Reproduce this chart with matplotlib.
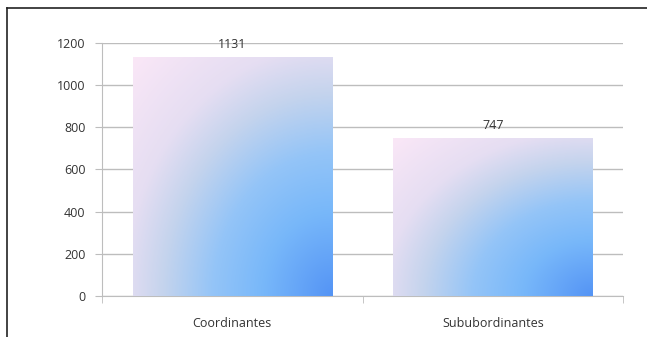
import numpy as np
import matplotlib.pyplot as plt
from matplotlib.colors import LinearSegmentedColormap
from matplotlib.lines import Line2D

categories = ['Coordinantes', 'Sububordinantes']
values = [1131, 747]
yticks = [0, 200, 400, 600, 800, 1000, 1200]

plt.rcParams['font.family'] = ['Open Sans', 'DejaVu Sans']

# radial fill: dark blue in the lower right corner, fading to lavender/pink
dmax = 1.45
stops = [
    (0.0, (0.33, 0.58, 0.96)),
    (0.35, (0.47, 0.72, 0.98)),
    (0.6, (0.58, 0.77, 0.97)),
    (0.85, (0.77, 0.83, 0.93)),
    (1.05, (0.90, 0.87, 0.95)),
    (1.45, (0.99, 0.91, 0.97)),
]
grad = LinearSegmentedColormap.from_list('barfill', [(p / dmax, c) for p, c in stops], N=512)

fig = plt.figure(figsize=(6.47, 3.37), dpi=100)
ax = fig.add_axes([0.1577, 0.1217, 0.8053, 0.7507])

x = np.arange(len(categories))
bars = ax.bar(x, values, width=0.765, color='none', edgecolor='none', zorder=3)

gy, gx = np.mgrid[0:1:200j, 0:1:200j]
d = np.sqrt((1 - gx) ** 2 + gy ** 2)
for b in bars:
    x0, w, h = b.get_x(), b.get_width(), b.get_height()
    ax.imshow(d, cmap=grad, vmin=0, vmax=dmax, origin='lower',
              extent=(x0, x0 + w, 0, h), aspect='auto', zorder=3,
              interpolation='bilinear')
    ax.annotate(str(int(h)), (x0 + w / 2, h), xytext=(0, 4.5), textcoords='offset points',
                ha='center', va='bottom', fontsize=9, color='#333333', zorder=4)

ax.set_xlim(-0.5, 1.5)
ax.set_ylim(0, 1200)
ax.set_yticks(yticks)
ax.yaxis.grid(True, color='#bdbdbd', lw=1)
ax.set_axisbelow(True)

ax.set_xticks(x)
ax.set_xticklabels(categories)
ax.set_xticks([-0.5, 0.5, 1.5], minor=True)
ax.tick_params(axis='x', which='major', length=0, pad=15, labelsize=9, labelcolor='#333333')
ax.tick_params(axis='x', which='minor', length=5, color='#bdbdbd', direction='out')
ax.tick_params(axis='y', length=5, color='#bdbdbd', labelsize=9, labelcolor='#333333', pad=7)

for s in ['top', 'right']:
    ax.spines[s].set_visible(False)
ax.spines['left'].set_color('#bdbdbd')
ax.spines['bottom'].set_color('#bdbdbd')

# outer frame (left and top only)
fig.add_artist(Line2D([7 / 647, 7 / 647], [0, 1 - 8 / 337], color='#222222', lw=1.2))
fig.add_artist(Line2D([7 / 647, 1], [1 - 8 / 337, 1 - 8 / 337], color='#222222', lw=1.2))

fig.savefig('out.png', dpi=100)
